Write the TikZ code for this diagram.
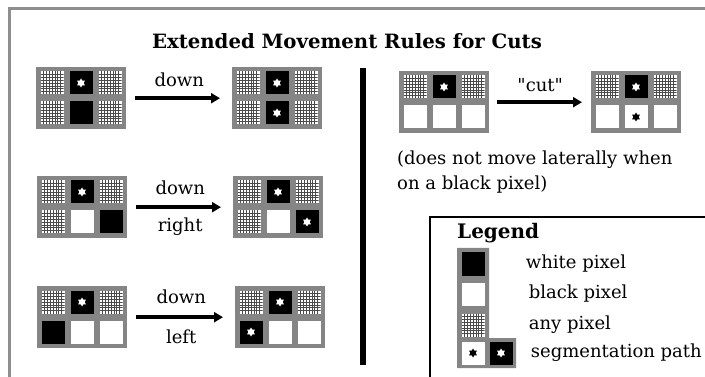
\documentclass[tikz,border=0pt]{standalone}
\usepackage{fontspec}
\setmainfont{DejaVu Serif}
\usetikzlibrary{positioning, arrows.meta, shapes.geometric}
\definecolor{frameGray}{HTML}{8E8E8E}
\definecolor{gridGray}{HTML}{858585}
\definecolor{dotGray}{HTML}{4A4A4A}

\tikzset{
  gridbox/.style={fill=gridGray, minimum width=90pt, minimum height=62pt,
                  inner sep=0pt, anchor=north west},
  pix/.style={minimum width=23pt, minimum height=23pt, inner sep=0pt},
  pixb/.style={pix, fill=black},
  pixw/.style={pix, fill=white},
  pixa/.style={pix, fill=white, path picture={
      \foreach \k in {1,...,7} {
        \draw[dotGray, line width=0.65pt]
          ([xshift=\k*2.875pt]path picture bounding box.south west) --
          ([xshift=\k*2.875pt]path picture bounding box.north west)
          ([yshift=\k*2.875pt]path picture bounding box.south west) --
          ([yshift=\k*2.875pt]path picture bounding box.south east);
      }}},
  pathmark/.style={star, star points=6, star point ratio=1.7,
                   minimum size=9pt, inner sep=0pt},
  pixs/.style={pixb, path picture={
      \node[pathmark, fill=white] at (path picture bounding box.center) {};}},
  pixt/.style={pixw, path picture={
      \node[pathmark, fill=black] at (path picture bounding box.center) {};}},
  rulearrow/.style={line width=3.5pt, -{Triangle[length=9pt, width=10pt]},
                    shorten <=9pt, shorten >=12pt},
  lbl/.style={font=\fontsize{18}{20}\selectfont, inner sep=1pt},
}

% one 3x2 neighbourhood: name, top-left corner, six cell kinds
\newcommand{\pixgrid}[3]{%
  \node[gridbox] (#1) at #2 {};
  \foreach \c [count=\i from 0] in {#3} {
    \pgfmathtruncatemacro{\col}{mod(\i,3)}
    \pgfmathtruncatemacro{\row}{div(\i,3)}
    \node[pix\c] (#1-\i) at ([xshift=16pt+\col*29pt, yshift=-16pt-\row*30pt]#1.north west) {};
  }%
}

\begin{document}
\begin{tikzpicture}[x=1pt, y=-1pt]
  \useasboundingbox (0,0) rectangle (705,377);
  \clip (0,0) rectangle (705,377);
  % outer frame
  \draw[frameGray, line width=2.5pt] (9.5,400) -- (9.5,8.5) -- (720,8.5);
  \node[font=\bfseries\fontsize{19.7}{22}\selectfont] (title) at (347,41)
    {Extended Movement Rules for Cuts};
  \draw[line width=6pt] (363,68) -- (363,365);

  % down
  \pixgrid{downL}{(36,67)}{a,s,a,a,b,a}
  \pixgrid{downR}{(232,67)}{a,s,a,a,s,a}
  \draw[rulearrow] (downL) -- node[lbl, above=9pt] {down} (downR);

  % down right
  \pixgrid{rightL}{(37,176)}{a,s,a,a,w,b}
  \pixgrid{rightR}{(233,176)}{a,s,a,a,w,s}
  \draw[rulearrow] (rightL) -- node[lbl, above=10pt] {down}
                               node[lbl, below=8pt] {right} (rightR);

  % down left
  \pixgrid{leftL}{(37,286)}{a,s,a,b,w,w}
  \pixgrid{leftR}{(235,286)}{a,s,a,s,w,w}
  \draw[rulearrow] (leftL) -- node[lbl, above=11pt] {down}
                              node[lbl, below=10pt] {left} (leftR);

  % cut
  \pixgrid{cutL}{(399,71)}{a,s,a,w,w,w}
  \pixgrid{cutR}{(591,71)}{a,s,a,w,t,w}
  \draw[rulearrow, shorten >=9pt, shorten <=8pt] (cutL) --
    node[lbl, above=8pt] {\textquotedbl cut\textquotedbl} (cutR);
  \node[lbl, anchor=west, align=left, font=\fontsize{18}{25}\selectfont] (note) at (396,172)
    {(does not move laterally when\\on a black pixel)};

  % legend
  \draw[line width=1.4pt] (430,217) rectangle (720,400);
  \node[font=\bfseries\fontsize{20}{22}\selectfont, anchor=west, inner sep=0pt] (legend) at (457,233) {Legend};
  \fill[gridGray] (457,248) rectangle (489,368) (489,338) rectangle (516,368);
  \node[pixb] (keyWhite) at (473,264) {};
  \node[pixw] (keyBlack) at (473,294) {};
  \node[pixa] (keyAny) at (473,325) {};
  \node[pixt] (keyPathW) at (473,353) {};
  \node[pixs] (keyPathB) at (501,353) {};
  \node[lbl, right=40pt of keyWhite] {white pixel};
  \node[lbl, right=43pt of keyBlack] {black pixel};
  \node[lbl, right=43pt of keyAny] {any pixel};
  \node[lbl, right=17pt of keyPathB] {segmentation path};
\end{tikzpicture}
\end{document}
